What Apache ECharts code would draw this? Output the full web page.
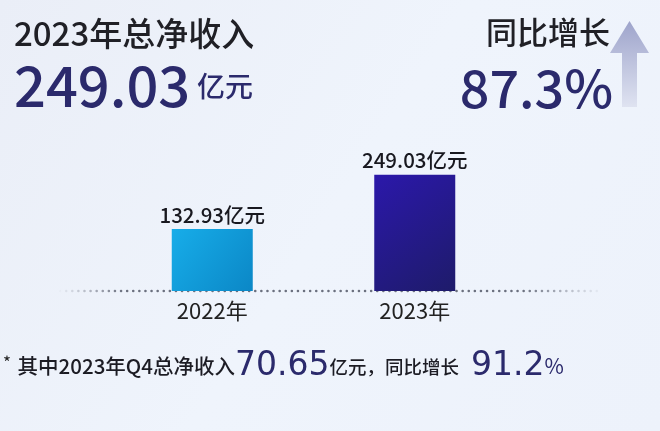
<!DOCTYPE html>
<html><head><meta charset="utf-8">
<script src="https://cdn.jsdelivr.net/npm/echarts@6/dist/echarts.min.js"></script>
<style>html,body{margin:0;padding:0;}#c{width:660px;height:431px;}</style>
</head><body><div id="c"></div>
<script>
var categories = ['2022年', '2023年'];
var revenue = [132.93, 249.03];
var unit = '亿元';
var titleText = '2023年总净收入';
var totalValue = '249.03';
var growthTitle = '同比增长';
var growthValue = '87.3%';
var q4Value = '70.65';
var q4Growth = '91.2';

var FONT = '"Noto Sans CJK SC", "Noto Sans", sans-serif';
var NUMFONT = '"DejaVu Sans", sans-serif';
var NAVY = '#2b2a6c';
var chart = echarts.init(document.getElementById('c'));
var barColors = [
  new echarts.graphic.LinearGradient(0, 0, 1, 1, [{offset: 0, color: '#17ade9'}, {offset: 1, color: '#0b87c6'}]),
  new echarts.graphic.LinearGradient(0, 0, 1, 1, [{offset: 0, color: '#2b18aa'}, {offset: 1, color: '#1e1b6a'}])
];
chart.setOption({
  backgroundColor: new echarts.graphic.LinearGradient(0, 0, 1, 1, [
    {offset: 0, color: '#eaeef7'}, {offset: 0.5, color: '#eff4fc'}, {offset: 1, color: '#edf2fb'}]),
  grid: {left: 111, right: 144, top: 151, bottom: 140},
  xAxis: {
    type: 'category', data: categories,
    axisLine: {show: false}, axisTick: {show: false},
    axisLabel: {color: '#222', fontSize: 22, fontFamily: FONT, margin: 9}
  },
  yAxis: {type: 'value', min: 0, max: 300, show: false, splitLine: {show: false}},
  series: [{
    type: 'bar', barWidth: 81,
    data: revenue.map(function (v, i) { return {value: v, itemStyle: {color: barColors[i]}}; }),
    label: {
      show: true, position: 'top', distance: 4,
      formatter: function (p) { return p.value + unit; },
      color: '#18181f', fontSize: 20.5, fontFamily: FONT, fontWeight: 500
    }
  }]
});

var baseY = chart.convertToPixel({yAxisIndex: 0}, 0);
chart.setOption({
  graphic: [
    {type: 'line', z: 0, shape: {x1: 60, y1: baseY, x2: 602, y2: baseY},
     style: {stroke: new echarts.graphic.LinearGradient(0, 0, 1, 0, [
        {offset: 0, color: 'rgba(110,115,130,0)'}, {offset: 0.12, color: 'rgba(100,105,120,0.95)'},
        {offset: 0.85, color: 'rgba(100,105,120,0.95)'}, {offset: 1, color: 'rgba(110,115,130,0)'}]),
        lineWidth: 2.5, lineDash: [0.1, 6], lineCap: 'round'}},
    {type: 'text', left: 14, top: 17,
     style: {text: titleText, font: '500 33px ' + FONT, fill: '#202026'}},
    {type: 'text', left: 14, top: 58,
     style: {text: '{a|' + totalValue + '}  {b|' + unit + '}',
       rich: {a: {fontSize: 56, fontWeight: 500, fontFamily: FONT, fill: NAVY},
              b: {fontSize: 28, fontWeight: 500, fontFamily: FONT, fill: NAVY}}}},
    {type: 'text', right: 50, top: 17,
     style: {text: growthTitle, font: '500 31px ' + FONT, fill: '#202026'}},
    {type: 'text', right: 47, top: 62,
     style: {text: growthValue, font: '500 52px ' + FONT, fill: NAVY}},
    {type: 'polygon', shape: {points: [[629.5, 21], [649, 53], [637, 53], [637, 107], [622, 107], [622, 53], [610, 53]]},
     style: {fill: new echarts.graphic.LinearGradient(0, 0, 0, 1, [
        {offset: 0, color: '#9ea4cb'}, {offset: 1, color: '#dfe3f1'}])}},
    {type: 'text', left: 3, top: 350,
     style: {text: '{s|*}  {t|其中2023年Q4总净收入}{n|' + q4Value + '}{u|亿元，同比增长}{g| }{n|' + q4Growth + '}{p|%}',
       rich: {
         s: {fontSize: 17, fontFamily: FONT, fill: '#222', padding: [0, 0, 8, 0]},
         t: {fontSize: 20.5, fontFamily: FONT, fill: '#1c1c24', fontWeight: 500},
         u: {fontSize: 18.5, fontFamily: FONT, fill: '#1c1c24', fontWeight: 500},
         g: {fontSize: 18, width: 12},
         n: {fontSize: 33, fontFamily: NUMFONT, fill: NAVY},
         p: {fontSize: 21, fontFamily: FONT, fill: NAVY}
       }}}
  ]
});
</script></body></html>
